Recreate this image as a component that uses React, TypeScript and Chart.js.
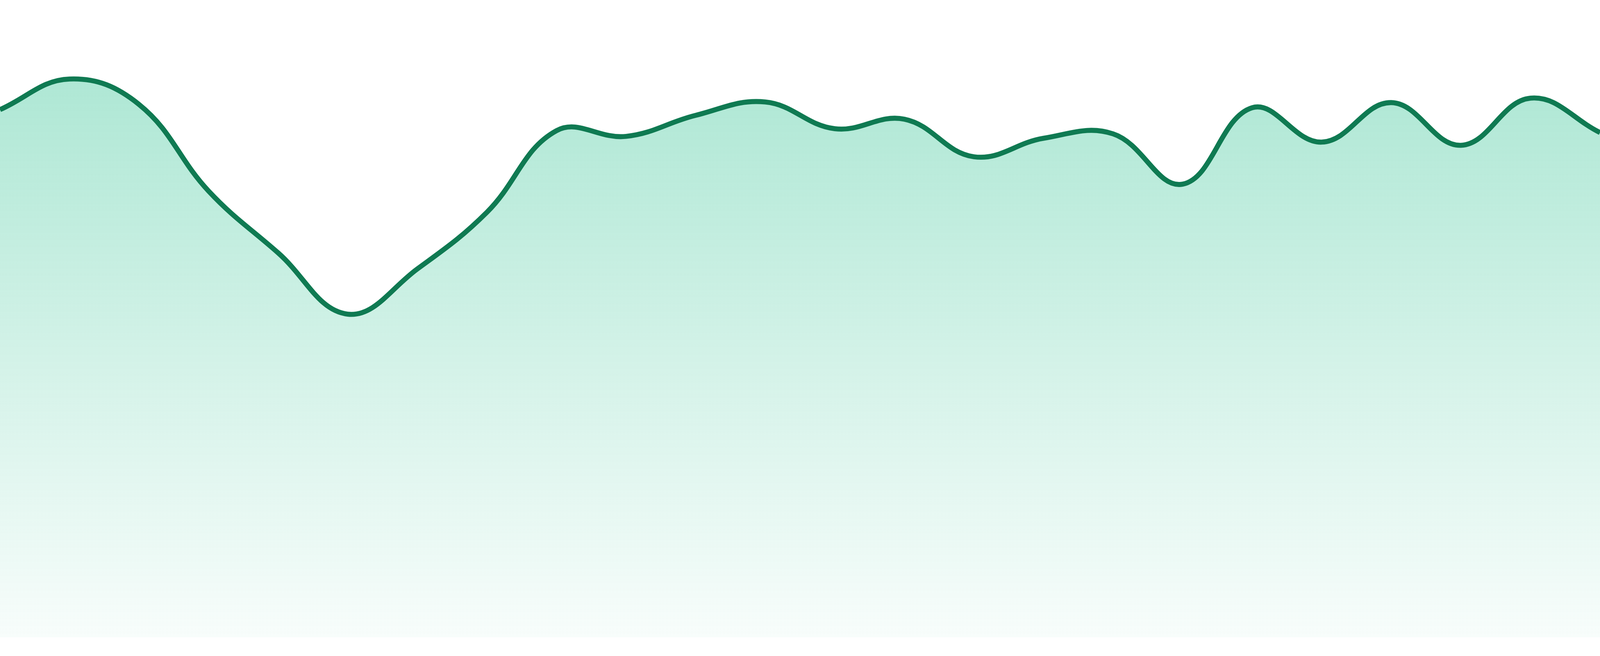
import React, { useEffect, useRef } from "react";
import { Chart, registerables } from "chart.js";

Chart.register(...registerables);

const labels: string[] = [
  "00:00", "01:00", "02:00", "03:00", "04:00", "05:00", "06:00", "07:00",
  "08:00", "09:00", "10:00", "11:00", "12:00", "13:00", "14:00", "15:00",
  "16:00", "17:00", "18:00", "19:00", "20:00", "21:00", "22:00", "23:00",
];

const values: number[] = [
  82.8, 87.6, 83.6, 70.0, 60.3, 50.7, 57.8, 66.7,
  79.5, 78.6, 81.9, 84.0, 79.8, 81.3, 75.4, 78.3,
  79.0, 71.1, 83.1, 77.7, 83.9, 77.2, 84.6, 79.2,
];

const yMin = 0;
const yMax = 100;

export default function App() {
  const canvasRef = useRef<HTMLCanvasElement | null>(null);

  useEffect(() => {
    document.body.style.margin = "0";
    const canvas = canvasRef.current;
    if (!canvas) return;
    const scale = window.innerWidth / 4800;

    const chart = new Chart(canvas, {
      type: "line",
      data: {
        labels,
        datasets: [
          {
            data: values,
            borderColor: "#0f7a52",
            borderWidth: 15 * scale,
            tension: 0.4,
            pointRadius: 0,
            pointHoverRadius: 0,
            fill: "origin",
            backgroundColor: (ctx: any) => {
              const c = ctx.chart;
              const area = c.chartArea;
              if (!area) return "rgba(16,185,129,0.3)";
              const g = c.ctx.createLinearGradient(0, area.top, 0, area.bottom);
              g.addColorStop(0, "rgba(16,185,129,0.38)");
              g.addColorStop(1, "rgba(16,185,129,0.03)");
              return g;
            },
          },
        ],
      },
      options: {
        animation: false,
        responsive: true,
        maintainAspectRatio: false,
        layout: { padding: 0 },
        plugins: {
          legend: { display: false },
          tooltip: { enabled: false },
          title: { display: false },
        },
        scales: {
          x: { display: false, offset: false },
          y: { display: false, min: yMin, max: yMax },
        },
        events: [],
      },
    });
    return () => chart.destroy();
  }, []);

  return (
    <div
      style={{
        position: "relative",
        width: "100vw",
        height: "calc(100vh * 1632 / 1680)",
        background: "#ffffff",
      }}
    >
      <canvas ref={canvasRef} />
    </div>
  );
}
